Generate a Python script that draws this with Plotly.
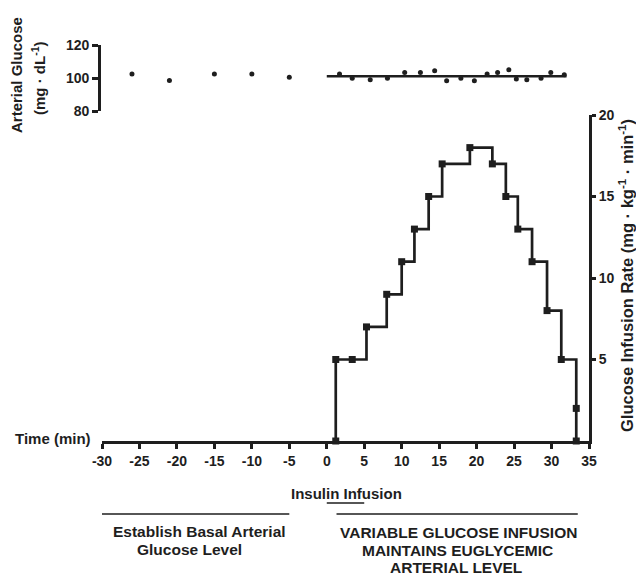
import plotly.graph_objects as go

# Arterial glucose (mg/dL) - basal period points
basal_time = [-26, -21, -15, -10, -5]
basal_glucose = [102.5, 98.5, 102.5, 102.5, 100.5]

# Arterial glucose during clamp
clamp_time = [1.7, 3.4, 5.8, 8.1, 10.4, 12.5, 14.4, 16.0, 17.9, 19.7, 21.4, 22.8, 24.3, 25.3, 26.7, 28.6, 29.9, 31.7]
clamp_glucose = [102.4, 99.8, 99.0, 99.8, 103.4, 103.4, 104.4, 98.4, 99.8, 98.4, 102.4, 103.4, 105.0, 99.4, 99.0, 99.8, 103.4, 102.0]

# Target euglycemic line
target_time = [0, 32]
target_glucose = [101, 101]

# Glucose infusion rate (mg/kg/min)
gir_time = [1.2, 1.2, 3.4, 5.3, 8.0, 10.0, 11.7, 13.6, 15.4, 19.1, 22.1, 23.9, 25.5, 27.4, 29.4, 31.3, 33.3, 33.3]
gir_value = [0, 5, 5, 7, 9, 11, 13, 15, 17, 18, 17, 15, 13, 11, 8, 5, 2, 0]

x_ticks = list(range(-30, 40, 5))
x_tick_labels = [str(v) for v in x_ticks]
gir_ticks = [5, 10, 15, 20]
glucose_ticks = [80, 100, 120]

FONT = "Arial"
INK = "#1e1e1e"

fig = go.Figure()

fig.add_trace(go.Scatter(x=target_time, y=target_glucose, xaxis="x", yaxis="y2",
                         mode="lines", line=dict(color=INK, width=2.5), hoverinfo="skip"))
fig.add_trace(go.Scatter(x=basal_time + clamp_time, y=basal_glucose + clamp_glucose, xaxis="x", yaxis="y2",
                         mode="markers", marker=dict(color=INK, size=5, symbol="circle"), cliponaxis=False))
fig.add_trace(go.Scatter(x=gir_time, y=gir_value, xaxis="x", yaxis="y",
                         mode="lines+markers", line=dict(color=INK, width=2.7, shape="hv"),
                         marker=dict(color=INK, size=7, symbol="square"), cliponaxis=False))

tickfont = dict(family=FONT, size=14, color=INK, weight="bold")

fig.update_layout(
    width=636, height=575,
    margin=dict(l=99, r=47, t=45, b=134),
    plot_bgcolor="white", paper_bgcolor="white",
    showlegend=False,
    font=dict(family=FONT, color=INK),
    xaxis=dict(domain=[3/490, 1], range=[-30, 35], tickvals=x_ticks, ticktext=x_tick_labels,
               showline=True, linecolor=INK, linewidth=2.7,
               ticks="outside", ticklen=5, tickwidth=2.5, tickcolor=INK,
               showgrid=False, zeroline=False, tickfont=tickfont, anchor="y"),
    yaxis=dict(domain=[0, 326/396], range=[0, 20], tickvals=gir_ticks, side="right",
               showline=True, linecolor=INK, linewidth=2.7,
               ticks="outside", ticklen=4, tickwidth=2.5, tickcolor=INK,
               showgrid=False, zeroline=False, tickfont=tickfont, anchor="x"),
    yaxis2=dict(domain=[330/396, 1], range=[80, 120], tickvals=glucose_ticks,
                showline=True, linecolor=INK, linewidth=2.7,
                ticks="outside", ticklen=6, tickwidth=2.5, tickcolor=INK,
                showgrid=False, zeroline=False, tickfont=tickfont,
                anchor="free", position=0),
)

def px_x(X):
    return (X - 99) / 490

def px_y(Y):
    return (441 - Y) / 396

def note(text, x, y, size=15, angle=0):
    fig.add_annotation(text=text, xref="paper", yref="paper", x=x, y=y, textangle=angle,
                       xanchor="center", yanchor="middle", showarrow=False,
                       font=dict(family=FONT, size=size, color=INK, weight="bold"))

fig.add_annotation(text="Time (min)", xref="paper", yref="paper", x=px_x(93), y=px_y(438),
                   xanchor="right", yanchor="middle", showarrow=False,
                   font=dict(family=FONT, size=15, color=INK, weight="bold"))
note("Arterial Glucose", px_x(16), px_y(75), size=15, angle=-90)
note("(mg · dL<sup>-1</sup>)", px_x(38), px_y(78), size=15, angle=-90)
note("Glucose Infusion Rate (mg · kg<sup>-1</sup> · min<sup>-1</sup>)", px_x(626), px_y(276), size=16.5, angle=-90)
note("Insulin Infusion", px_x(346), px_y(493), size=15)
note("Establish Basal Arterial", px_x(199), px_y(531), size=15.5)
note("Glucose Level", px_x(189), px_y(549), size=15.5)
note("VARIABLE GLUCOSE INFUSION", px_x(458), px_y(532), size=15.5)
note("MAINTAINS EUGLYCEMIC", px_x(457), px_y(550), size=15.5)
note("ARTERIAL LEVEL", px_x(456), px_y(567), size=15.5)

fig.add_shape(type="line", xref="x", yref="paper", x0=0, x1=5, y0=px_y(503), y1=px_y(503),
              line=dict(color=INK, width=1.5))
fig.add_shape(type="line", xref="x", yref="paper", x0=-30, x1=-5, y0=px_y(514), y1=px_y(514),
              line=dict(color=INK, width=1.5))
fig.add_shape(type="line", xref="x", yref="paper", x0=1.3, x1=33.5, y0=px_y(514), y1=px_y(514),
              line=dict(color=INK, width=1.5))

fig.write_html("out.html", config={"displayModeBar": False},
               post_script="document.body.style.margin='0';document.body.style.overflow='hidden';")
